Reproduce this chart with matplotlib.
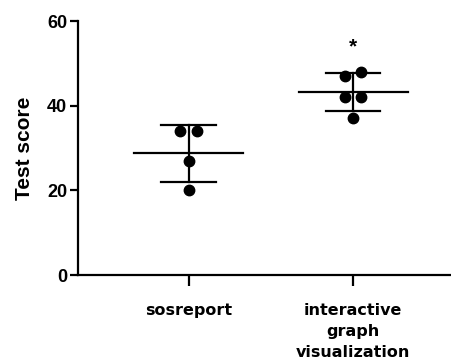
import numpy as np
import matplotlib
matplotlib.use("Agg")
import matplotlib.pyplot as plt

plt.rcParams["font.family"] = ["Liberation Sans", "DejaVu Sans"]

# data
groups = ["sosreport", "interactive\ngraph\nvisualization"]
sosreport_scores = [34, 34, 27, 20]
graph_scores = [47, 48, 42, 42, 37]
significance = ["", "*"]

# horizontal spread of the dots (swarm-like layout)
spread = [[-0.05, 0.05, 0.0, 0.0], [-0.05, 0.05, -0.05, 0.05, 0.0]]


def main():
    fig = plt.figure(figsize=(4.52, 3.63), dpi=100)
    ax = fig.add_axes([0.173, 0.242, 0.827, 0.70])

    for i, scores in enumerate([sosreport_scores, graph_scores]):
        scores = np.array(scores, dtype=float)
        mean = scores.mean()
        sd = scores.std(ddof=1)
        xs = i + np.array(spread[i])
        ax.plot(xs, scores, "o", color="black", markersize=7.5, zorder=3)
        # mean line and SD bars
        ax.plot([i - 0.33, i + 0.33], [mean, mean], color="black", lw=1.6)
        ax.plot([i, i], [mean - sd, mean + sd], color="black", lw=1.6)
        for y in (mean - sd, mean + sd):
            ax.plot([i - 0.165, i + 0.165], [y, y], color="black", lw=1.6)
        if significance[i]:
            ax.text(i, mean + sd + 4, significance[i], ha="center",
                    va="bottom", fontsize=15, fontweight="bold")

    ax.set_xlim(-0.67, 1.6)
    ax.set_ylim(0, 60)
    ax.set_yticks([0, 20, 40, 60])
    ax.set_xticks([0, 1])
    ax.set_xticklabels(groups, fontsize=11.5, fontweight="bold",
                       family="DejaVu Sans", linespacing=1.5)
    ax.set_ylabel("Test score", fontsize=15, fontweight="bold", labelpad=9)
    for lab in ax.get_yticklabels():
        lab.set_fontweight("bold")
        lab.set_fontsize(13)

    ax.spines["top"].set_visible(False)
    ax.spines["right"].set_visible(False)
    ax.spines["left"].set_linewidth(1.6)
    ax.spines["bottom"].set_linewidth(1.6)
    ax.tick_params(axis="y", length=6, width=1.6, pad=2)
    ax.tick_params(axis="x", length=8, width=1.6, pad=12)

    fig.savefig("out.png", dpi=100)


if __name__ == "__main__":
    main()
